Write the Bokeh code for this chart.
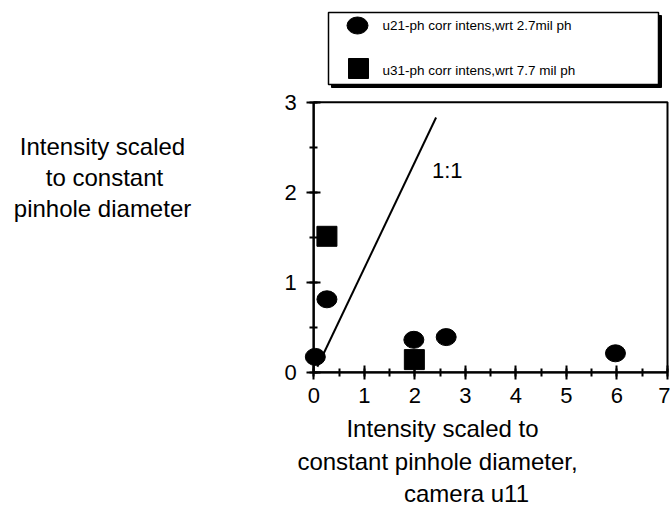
from bokeh.plotting import figure
from bokeh.models import Range1d, SingleIntervalTicker, LinearAxis, ColumnDataSource
from bokeh.embed import file_html
from bokeh.resources import INLINE
from bokeh.core.properties import value

# ---- data ----
series_names = ["u21-ph corr intens,wrt 2.7mil ph", "u31-ph corr intens,wrt 7.7 mil ph"]
u21_x = [0.03, 0.26, 1.98, 2.62, 5.97]
u21_y = [0.17, 0.81, 0.36, 0.39, 0.21]
u31_x = [0.26, 1.99]
u31_y = [1.51, 0.14]
ref_x = [0.07, 2.42]
ref_y = [0.06, 2.83]
ref_label = "1:1"
x_title = ["Intensity scaled to", "constant pinhole diameter,", "camera u11"]
y_title = ["Intensity scaled", "to constant", "pinhole diameter"]
x_limits = (0, 7)
y_limits = (0, 3)

FONT = "Liberation Sans"
W, H = 670, 506

# placement of the data box on the canvas (pixels)
BOX_LEFT, BOX_RIGHT, BOX_TOP, BOX_BOTTOM = 313.3, 667.0, 101.7, 371.7
XS = (BOX_RIGHT - BOX_LEFT) / (x_limits[1] - x_limits[0])
YS = (BOX_BOTTOM - BOX_TOP) / (y_limits[1] - y_limits[0])


def dx(px):
    return x_limits[0] + (px - BOX_LEFT) / XS


def dy(py):
    return y_limits[0] + (BOX_BOTTOM - py) / YS


p = figure(width=W, height=H,
           x_range=Range1d(dx(0), dx(W)), y_range=Range1d(dy(H), dy(0)),
           output_backend="svg", toolbar_location=None,
           x_axis_location=None, y_axis_location=None,
           min_border_left=0, min_border_right=0, min_border_top=0, min_border_bottom=0)
p.grid.visible = False
p.outline_line_color = None
p.background_fill_color = "white"
p.border_fill_color = "white"

xaxis = LinearAxis(fixed_location=y_limits[0], bounds=x_limits)
yaxis = LinearAxis(fixed_location=x_limits[0], bounds=y_limits)
p.add_layout(xaxis, "below")
p.add_layout(yaxis, "left")
for ax in (xaxis, yaxis):
    ax.ticker = SingleIntervalTicker(interval=1, num_minor_ticks=2)
    ax.axis_line_width = 2
    ax.axis_line_color = "black"
    ax.major_tick_line_width = 2
    ax.minor_tick_line_width = 2
    ax.major_tick_line_color = "black"
    ax.minor_tick_line_color = "black"
    ax.major_tick_in = 7
    ax.major_tick_out = 7
    ax.minor_tick_in = 4
    ax.minor_tick_out = 4
    ax.major_label_text_font = FONT
    ax.major_label_text_font_size = "22px"
    ax.major_label_text_color = "black"
xaxis.major_label_standoff = 9
yaxis.major_label_standoff = 10

# top / right border of the data box
p.quad(left=[x_limits[0]], right=[x_limits[1]], bottom=[y_limits[0]], top=[y_limits[1]],
       fill_color=None, line_color="black", line_width=2)

src21 = ColumnDataSource(dict(x=u21_x, y=u21_y))
src31 = ColumnDataSource(dict(x=u31_x, y=u31_y))
p.line(ref_x, ref_y, line_color="black", line_width=2)
p.ellipse(x="x", y="y", width=20, height=17, width_units="screen", height_units="screen",
          source=src21, fill_color="black", line_color="black")
p.scatter(x="x", y="y", marker="square", size=20, source=src31,
          fill_color="black", line_color="black")

p.text(x=[2.64], y=[2.24], text=[ref_label], text_font=value(FONT),
       text_font_size=value("22px"), text_align="center", text_baseline="middle",
       text_color="black")

# axis titles
p.text(x=[dx(102), dx(104), dx(102)], y=[dy(146), dy(177), dy(208)], text=y_title,
       text_font=value(FONT), text_font_size=value("24px"), text_align="center",
       text_baseline="middle", text_color="black")
p.text(x=[dx(442), dx(437), dx(466)], y=[dy(428), dy(461), dy(493)], text=x_title,
       text_font=value(FONT), text_font_size=value("24px"), text_align="center",
       text_baseline="middle", text_color="black")

# legend box with drop shadow
p.quad(left=[dx(331)], right=[dx(661)], top=[dy(15)], bottom=[dy(87)],
       fill_color="black", line_color="black")
p.quad(left=[dx(328)], right=[dx(658)], top=[dy(12)], bottom=[dy(84)],
       fill_color="white", line_color="black", line_width=1.5)
p.ellipse(x=[dx(357)], y=[dy(25)], width=21, height=17, width_units="screen",
          height_units="screen", fill_color="black", line_color="black")
p.scatter(x=[dx(358)], y=[dy(68)], marker="square", size=20,
          fill_color="black", line_color="black")
p.text(x=[dx(382), dx(382)], y=[dy(25), dy(70)], text=series_names, text_font=value(FONT),
       text_font_size=value("13.5px"), text_baseline="middle", text_align="left",
       text_color="black")

open("out.html", "w").write(file_html(p, INLINE))
